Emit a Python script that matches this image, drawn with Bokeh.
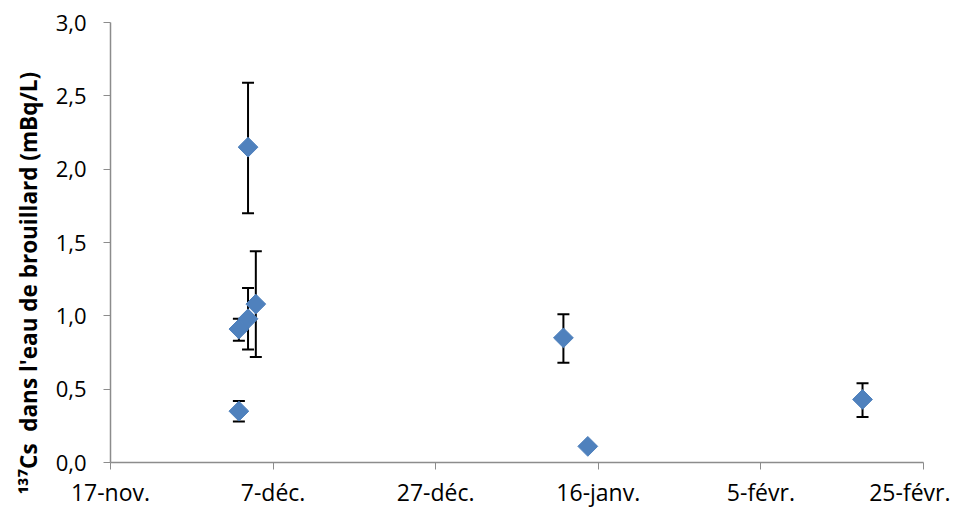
import pandas as pd
from bokeh.plotting import figure
from bokeh.models import (ColumnDataSource, Whisker, TeeHead, FixedTicker,
                          CustomJSTickFormatter, Range1d, Title)
from bokeh.embed import file_html
from bokeh.resources import INLINE

# ---- data ----
start_date = "2011-11-17"
sample_dates = ["2011-12-02 19:00", "2011-12-02 19:00", "2011-12-03 22:00",
                "2011-12-03 22:00", "2011-12-04 21:00", "2012-01-11 17:00",
                "2012-01-14 17:00", "2012-02-17 12:00"]
cs137 = [0.35, 0.91, 0.98, 2.15, 1.08, 0.85, 0.11, 0.43]
err_low = [0.28, 0.83, 0.77, 1.70, 0.72, 0.68, None, 0.31]
err_high = [0.42, 0.98, 1.19, 2.59, 1.44, 1.01, None, 0.54]

tick_days = [0, 20, 40, 60, 80, 100]
tick_labels = ["17-nov.", "7-déc.", "27-déc.", "16-janv.", "5-févr.", "25-févr."]
y_label = "¹³⁷Cs\u00a0 dans l'eau de brouillard (mBq/L)"

t0 = pd.Timestamp(start_date)
days = [(pd.Timestamp(d) - t0).total_seconds() / 86400.0 for d in sample_dates]

src = ColumnDataSource(dict(x=days, y=cs137))
idx = [i for i in range(len(days)) if err_low[i] is not None]
esrc = ColumnDataSource(dict(x=[days[i] for i in idx],
                             lo=[err_low[i] for i in idx],
                             hi=[err_high[i] for i in idx]))

FONT = "Open Sans"
AXIS_COL = "#8c8c8c"

p = figure(width=950, height=510, output_backend="svg", toolbar_location=None,
           x_range=Range1d(0, 100), y_range=Range1d(0, 3),
           min_border_left=110, min_border_right=27, min_border_top=22,
           min_border_bottom=47)
p.outline_line_color = None
p.grid.visible = False
p.background_fill_color = "white"
p.border_fill_color = "white"

w = Whisker(source=esrc, base="x", lower="lo", upper="hi", level="underlay",
            line_color="black", line_width=2,
            lower_head=TeeHead(size=12, line_color="black", line_width=2),
            upper_head=TeeHead(size=12, line_color="black", line_width=2))
p.add_layout(w)

p.scatter("x", "y", source=src, marker="square", angle=0.785398, size=14,
          fill_color="#4F81BD", line_color="#4F81BD", line_width=1)

# x axis
p.xaxis.ticker = FixedTicker(ticks=tick_days)
p.xaxis.major_label_overrides = {d: l for d, l in zip(tick_days, tick_labels)}
p.xaxis.minor_tick_line_color = None
p.xaxis.major_tick_in = 0
p.xaxis.major_tick_out = 7
p.xaxis.axis_line_color = AXIS_COL
p.xaxis.major_tick_line_color = AXIS_COL
p.xaxis.axis_line_width = 1.5
p.xaxis.major_label_text_font = FONT
p.xaxis.major_label_text_font_size = "23px"
p.xaxis.major_label_text_color = "black"
p.xaxis.major_label_standoff = 6

# y axis
p.yaxis.ticker = FixedTicker(ticks=[0, 0.5, 1.0, 1.5, 2.0, 2.5, 3.0])
p.yaxis.formatter = CustomJSTickFormatter(code="return tick.toFixed(1).replace('.', ',');")
p.yaxis.minor_tick_line_color = None
p.yaxis.major_tick_in = 0
p.yaxis.major_tick_out = 7
p.yaxis.axis_line_color = AXIS_COL
p.yaxis.major_tick_line_color = AXIS_COL
p.yaxis.axis_line_width = 1.5
p.yaxis.major_label_text_font = FONT
p.yaxis.major_label_text_font_size = "22px"
p.yaxis.major_label_text_color = "black"
p.yaxis.major_label_standoff = 17

# y-axis title
t = Title(text=y_label, align="left", offset=-32, standoff=17,
          text_font=FONT, text_font_size="22.5px", text_font_style="bold",
          text_color="black")
p.add_layout(t, "left")

open("out.html", "w").write(file_html(p, INLINE))
